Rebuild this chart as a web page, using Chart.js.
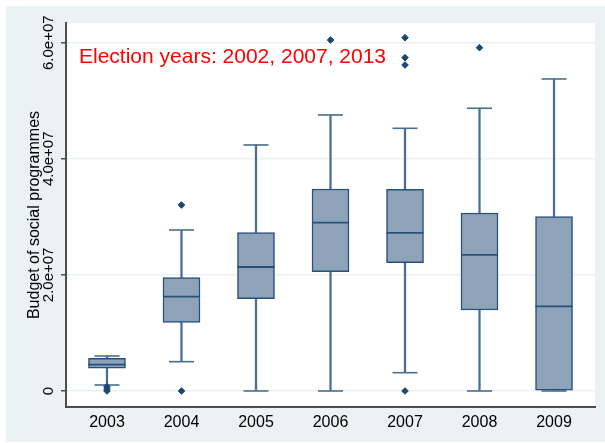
<!DOCTYPE html>
<html>
<head>
<meta charset="utf-8">
<script src="https://cdn.jsdelivr.net/npm/chart.js@4/dist/chart.umd.min.js"></script>
<style>
html,body{margin:0;padding:0;background:#fff;}
canvas{display:block;}
</style>
</head>
<body>
<canvas id="c" width="605" height="443"></canvas>
<script>
// ---- data ----
const years = [2003, 2004, 2005, 2006, 2007, 2008, 2009];
const yearLabels = ["2003", "2004", "2005", "2006", "2007", "2008", "2009"];
const whiskerLow  = [1.03e6, 5.05e6, 0,       0,       3.15e6,  0,       0];
const quartile1   = [3.91e6, 1.183e7, 1.59e7, 2.055e7, 2.21e7,  1.395e7, 1.2e5];
const medians     = [4.53e6, 1.624e7, 2.136e7, 2.899e7, 2.722e7, 2.343e7, 1.459e7];
const quartile3   = [5.63e6, 1.952e7, 2.727e7, 3.48e7, 3.475e7, 3.066e7, 3.003e7];
const whiskerHigh = [6.03e6, 2.773e7, 4.238e7, 4.755e7, 4.525e7, 4.87e7, 5.375e7];
const outliers    = [[7.4e5, 3.4e5, 0], [3.204e7, 0], [], [6.046e7], [6.086e7, 5.742e7, 5.616e7, 0], [5.914e7], []];
const yTickValues = [0, 2e7, 4e7, 6e7];
const yTickLabels = ["0", "2.0e+07", "4.0e+07", "6.0e+07"];
const yTitle = "Budget of social programmes";
const noteText = "Election years: 2002, 2007, 2013";

const FONT = "'Liberation Sans', Arial, Helvetica, sans-serif";
const BOX_FILL = '#8EA3B8';
const BOX_LINE = '#24507A';
const WHISK = '#4A6D90';
const MARK = '#1A476F';

const boxData = years.map((x, i) => ({x, y: [quartile1[i], quartile3[i]]}));
const upperWhisk = years.map((x, i) => ({x, y: [quartile3[i], whiskerHigh[i]]}));
const lowerWhisk = years.map((x, i) => ({x, y: [whiskerLow[i], quartile1[i]]}));
const caps = [];
years.forEach((x, i) => { caps.push({x, y: whiskerHigh[i]}); caps.push({x, y: whiskerLow[i]}); });
const medPts = years.map((x, i) => ({x, y: medians[i]}));
const outPts = [];
years.forEach((x, i) => outliers[i].forEach(v => outPts.push({x, y: v})));

const bgPlugin = {
  id: 'bg',
  beforeDraw(chart) {
    const {ctx, chartArea: a} = chart;
    ctx.save();
    ctx.fillStyle = '#ffffff';
    ctx.fillRect(0, 0, chart.width, chart.height);
    ctx.fillStyle = '#EAF2F3';
    ctx.fillRect(6, 6, chart.width - 6, chart.height - 7);
    ctx.fillStyle = '#ffffff';
    ctx.fillRect(a.left, a.top, a.right - a.left, a.bottom - a.top);
    ctx.restore();
  },
  afterDraw(chart) {
    const {ctx, chartArea: a} = chart;
    const ys = chart.scales.y;
    ctx.save();
    ctx.fillStyle = '#000';
    ctx.font = '15px ' + FONT;
    ctx.textAlign = 'center';
    ctx.textBaseline = 'middle';
    yTickValues.forEach((v, i) => {
      const py = ys.getPixelForValue(v);
      ctx.save();
      ctx.translate(48.5, py);
      ctx.rotate(-Math.PI / 2);
      ctx.fillText(yTickLabels[i], 0, 0);
      ctx.restore();
    });
    ctx.fillStyle = '#FF0000';
    ctx.font = '21px ' + FONT;
    ctx.textAlign = 'left';
    ctx.textBaseline = 'alphabetic';
    ctx.fillText(noteText, a.left + 13, a.top + 40);
    ctx.restore();
  }
};

new Chart(document.getElementById('c'), {
  type: 'bar',
  data: {
    datasets: [
      {type: 'scatter', data: medPts, order: 0, pointStyle: 'line', pointRadius: 18.5, borderColor: BOX_LINE, borderWidth: 1.8, backgroundColor: BOX_LINE},
      {type: 'scatter', data: outPts, order: 1, pointStyle: 'rectRot', pointRadius: 3.3, borderWidth: 1, borderColor: MARK, backgroundColor: MARK},
      {type: 'bar', data: boxData, order: 2, grouped: false, barThickness: 37, backgroundColor: BOX_FILL, borderColor: BOX_LINE, borderWidth: 1.5, borderSkipped: false},
      {type: 'scatter', data: caps, order: 3, pointStyle: 'line', pointRadius: 12.5, borderColor: WHISK, borderWidth: 1.6, backgroundColor: WHISK},
      {type: 'bar', data: upperWhisk, order: 4, grouped: false, barThickness: 1.6, backgroundColor: WHISK, borderWidth: 0},
      {type: 'bar', data: lowerWhisk, order: 5, grouped: false, barThickness: 1.6, backgroundColor: WHISK, borderWidth: 0}
    ]
  },
  options: {
    responsive: false,
    devicePixelRatio: 1,
    animation: false,
    events: [],
    layout: {autoPadding: false, padding: {left: 0, top: 23, right: 10, bottom: 0}},
    plugins: {legend: {display: false}, tooltip: {enabled: false}, title: {display: false}},
    scales: {
      x: {
        type: 'linear',
        offset: false,
        min: 2002.45,
        max: 2009.55,
        afterBuildTicks: s => { s.ticks = years.map(v => ({value: v})); },
        afterFit: s => { s.height = 36; },
        grid: {display: false, drawTicks: false, offset: false},
        border: {display: true, color: '#4d4d4d', width: 2},
        ticks: {
          padding: 6,
          color: '#000',
          font: {family: FONT, size: 16},
          maxRotation: 0,
          autoSkip: false,
          callback: v => yearLabels[years.indexOf(v)]
        }
      },
      y: {
        type: 'linear',
        min: -2.76e6,
        max: 6.339e7,
        afterBuildTicks: s => { s.ticks = yTickValues.map(v => ({value: v})); },
        afterFit: s => { s.width = 66; },
        grid: {color: '#EAF2F3', lineWidth: 1.5, drawTicks: true, tickLength: 5, tickColor: '#4d4d4d', tickWidth: 1.5},
        border: {display: true, color: '#4d4d4d', width: 2},
        ticks: {display: false},
        title: {display: true, text: yTitle, color: '#000', font: {family: FONT, size: 16, lineHeight: 1.2}, padding: {top: 25, bottom: 0}}
      }
    }
  },
  plugins: [bgPlugin]
});
</script>
</body>
</html>
